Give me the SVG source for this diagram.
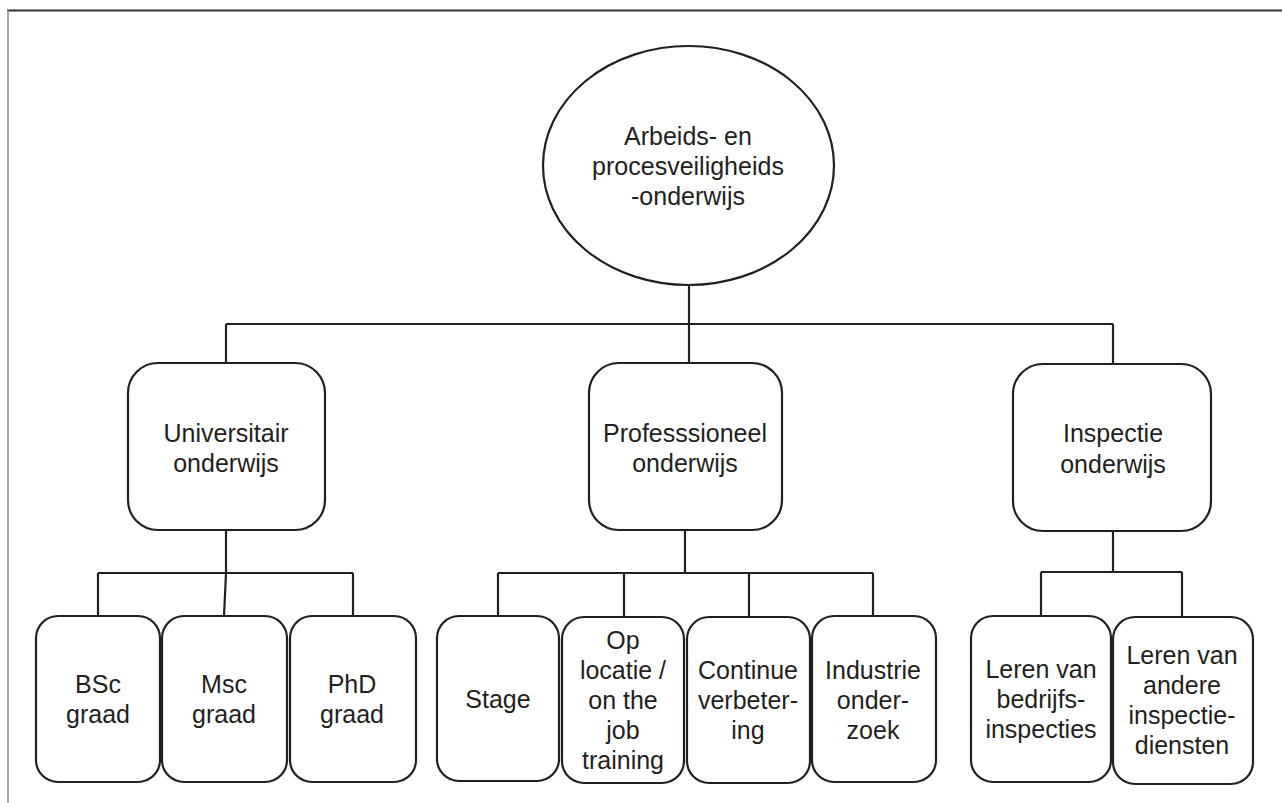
<svg xmlns="http://www.w3.org/2000/svg" width="1282" height="803" viewBox="0 0 1282 803">
<style>
.n{fill:#fff;stroke:#231f20;stroke-width:2.2}
.c{fill:none;stroke:#231f20;stroke-width:2.2}
text{font-family:"Liberation Sans",Arial,sans-serif;font-size:25px;fill:#231f20;text-anchor:middle}
</style>
<rect width="1282" height="803" fill="#fff"/>
<g id="frame">
<line x1="7" y1="10.5" x2="1282" y2="10.5" stroke="#333" stroke-width="1.8"/>
<line x1="8" y1="10" x2="8" y2="803" stroke="#888" stroke-width="1.5"/>
</g>
<g id="connectors">
<path class="c" d="M689 285V324M226 324H1113M226 324V363M689 324V363M1113 324V364"/>
<path class="c" d="M226 530V573M98 573H353M98 573V616M226 573L224 616M353 573V616"/>
<path class="c" d="M685 530V573M498 573H873M498 573V616M624 573V617M749 573V617M873 573V616"/>
<path class="c" d="M1113 531V572M1041 572H1182M1041 572V616M1182 572V617"/>
</g>
<g id="root">
<ellipse class="n" cx="688.5" cy="165.5" rx="145.5" ry="119.5"/>
<text x="688" y="145">Arbeids- en</text>
<text x="688" y="175">procesveiligheids</text>
<text x="688" y="205">-onderwijs</text>
</g>
<g id="universitair">
<rect class="n" x="128" y="363" width="197" height="167" rx="30"/>
<text x="226" y="442">Universitair</text>
<text x="226" y="472">onderwijs</text>
</g>
<g id="professioneel">
<rect class="n" x="589" y="363" width="193" height="167" rx="30"/>
<text x="685" y="442">Professsioneel</text>
<text x="685" y="472">onderwijs</text>
</g>
<g id="inspectie">
<rect class="n" x="1013" y="364" width="198" height="167" rx="30"/>
<text x="1113" y="442">Inspectie</text>
<text x="1113" y="473">onderwijs</text>
</g>
<g id="bsc">
<rect class="n" x="36" y="616" width="124" height="166" rx="22"/>
<text x="98" y="693">BSc</text>
<text x="98" y="723">graad</text>
</g>
<g id="msc">
<rect class="n" x="162" y="616" width="125" height="166" rx="22"/>
<text x="224" y="693">Msc</text>
<text x="224" y="723">graad</text>
</g>
<g id="phd">
<rect class="n" x="290" y="616" width="126" height="166" rx="22"/>
<text x="352" y="693">PhD</text>
<text x="352" y="723">graad</text>
</g>
<g id="stage">
<rect class="n" x="437" y="616" width="122" height="165" rx="22"/>
<text x="498" y="708">Stage</text>
</g>
<g id="oplocatie">
<rect class="n" x="562" y="617" width="122" height="166" rx="22"/>
<text x="623" y="649">Op</text>
<text x="623" y="679">locatie /</text>
<text x="623" y="709">on the</text>
<text x="623" y="739">job</text>
<text x="623" y="769">training</text>
</g>
<g id="continue">
<rect class="n" x="687" y="617" width="123" height="166" rx="22"/>
<text x="748" y="679">Continue</text>
<text x="748" y="709">verbeter-</text>
<text x="748" y="739">ing</text>
</g>
<g id="industrie">
<rect class="n" x="812" y="616" width="124" height="166" rx="22"/>
<text x="873" y="679">Industrie</text>
<text x="873" y="709">onder-</text>
<text x="873" y="739">zoek</text>
</g>
<g id="bedrijfsinspecties">
<rect class="n" x="971" y="616" width="140" height="166" rx="22"/>
<text x="1041" y="678">Leren van</text>
<text x="1041" y="708">bedrijfs-</text>
<text x="1041" y="738">inspecties</text>
</g>
<g id="inspectiediensten">
<rect class="n" x="1113" y="617" width="140" height="167" rx="22"/>
<text x="1182" y="664">Leren van</text>
<text x="1182" y="694">andere</text>
<text x="1182" y="724">inspectie-</text>
<text x="1182" y="754">diensten</text>
</g>
</svg>
